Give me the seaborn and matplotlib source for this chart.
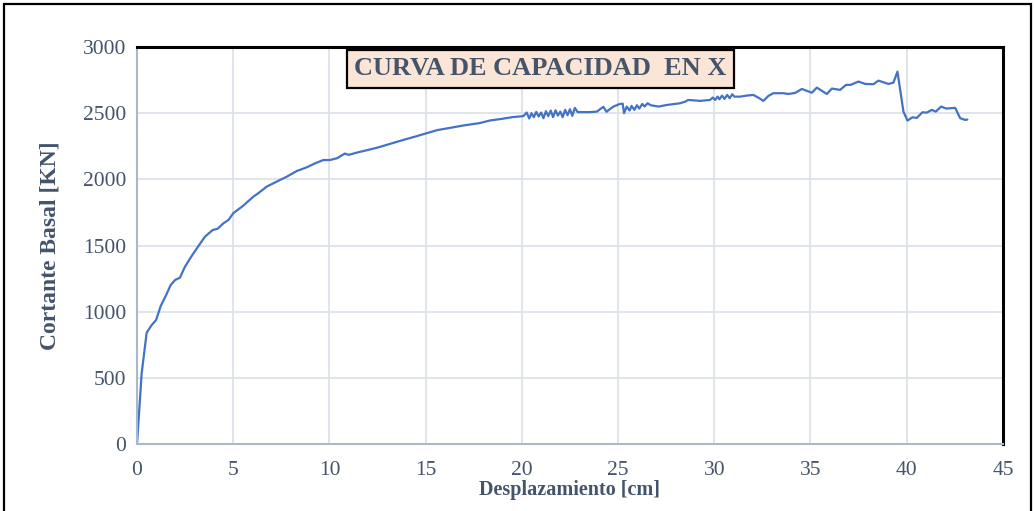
import matplotlib
matplotlib.use('Agg')
import matplotlib.pyplot as plt
from matplotlib.patches import Rectangle
import pandas as pd
import seaborn as sns

# curva de capacidad
desplazamiento = [
    0.0, 0.24, 0.5, 0.76, 0.99, 1.23, 1.49, 1.75, 1.98, 2.23, 2.49, 2.84,
    3.19, 3.53, 3.93, 4.19, 4.49, 4.75, 5.0, 5.52, 6.04, 6.3, 6.74, 7.26,
    7.78, 8.3, 8.82, 9.25, 9.68, 10.03, 10.4, 10.8, 11.0, 11.5, 12.0, 12.5,
    13.0, 13.7, 14.5, 15.2, 15.6, 16.3, 17.0, 17.8, 18.35, 19.0, 19.5, 20.08,
    20.25, 20.38, 20.5, 20.62, 20.75, 20.87, 21.0, 21.12, 21.25, 21.37, 21.5,
    21.62, 21.75, 21.87, 22.0, 22.12, 22.25, 22.37, 22.5, 22.62, 22.75, 22.9,
    23.5, 23.9, 24.06, 24.24, 24.4, 24.58, 24.76, 25.1, 25.24, 25.31, 25.45,
    25.6, 25.7, 25.85, 25.98, 26.1, 26.26, 26.38, 26.53, 26.7, 27.1, 27.53,
    28.22, 28.48, 28.65, 29.26, 29.78, 29.92, 30.05, 30.17, 30.27, 30.4,
    30.53, 30.67, 30.8, 30.93, 31.05, 31.34, 31.69, 32.03, 32.34, 32.55,
    32.81, 33.07, 33.59, 33.85, 34.2, 34.55, 35.07, 35.33, 35.85, 36.11,
    36.54, 36.85, 37.09, 37.49, 37.84, 38.27, 38.53, 39.05, 39.31, 39.52,
    39.83, 40.04, 40.3, 40.52, 40.82, 41.04, 41.3, 41.51, 41.79, 42.05,
    42.52, 42.78, 43.04, 43.15,
]
cortante = [
    0, 534, 841, 899, 937, 1043, 1119, 1202, 1240, 1257, 1340, 1421,
    1496, 1567, 1617, 1627, 1668, 1693, 1744, 1801, 1869, 1895, 1945, 1983,
    2020, 2063, 2091, 2121, 2146, 2146, 2160, 2195, 2185, 2205, 2222, 2240,
    2262, 2292, 2325, 2355, 2372, 2390, 2408, 2425, 2445, 2458, 2470, 2478,
    2505, 2460, 2500, 2470, 2510, 2475, 2505, 2462, 2515, 2478, 2520,
    2470, 2522, 2482, 2512, 2470, 2525, 2485, 2530, 2480, 2540, 2508,
    2508, 2512, 2530, 2548, 2510, 2532, 2550, 2570, 2572, 2500, 2550,
    2520, 2555, 2525, 2560, 2535, 2570, 2550, 2575, 2560, 2550, 2562,
    2575, 2587, 2600, 2593, 2600, 2618, 2600, 2625, 2605, 2633,
    2608, 2638, 2613, 2643, 2625, 2625, 2633, 2638, 2613, 2593,
    2630, 2651, 2651, 2645, 2653, 2683, 2655, 2693, 2645, 2686,
    2676, 2714, 2714, 2739, 2721, 2719, 2746, 2721, 2731, 2814,
    2512, 2444, 2469, 2464, 2507, 2504, 2525, 2512, 2550, 2535,
    2540, 2462, 2449, 2452,
]

x_ticks = [0, 5, 10, 15, 20, 25, 30, 35, 40, 45]
y_ticks = [0, 500, 1000, 1500, 2000, 2500, 3000]

df = pd.DataFrame({'desp': desplazamiento, 'v': cortante})

sns.set_style('white')
plt.rcParams['font.family'] = ['Liberation Serif', 'DejaVu Serif']

text_col = '#44546A'

fig = plt.figure(figsize=(10.35, 5.11), dpi=100)
ax = fig.add_axes([0.1324, 0.131, 0.8366, 0.777])

sns.lineplot(data=df, x='desp', y='v', ax=ax, color='#4472C4',
             linewidth=1.6, sort=False, estimator=None)

ax.set_xlim(0, 45)
ax.set_ylim(0, 3000)
ax.set_xticks(x_ticks)
ax.set_yticks(y_ticks)
ax.grid(True, color='#DDE2EA', linewidth=1.3)
ax.tick_params(axis='both', length=0, labelsize=15.5, labelcolor=text_col,
               pad=12)
ax.tick_params(axis='y', pad=8)

for side in ['top', 'right']:
    ax.spines[side].set_color('black')
    ax.spines[side].set_linewidth(2.2)
for side in ['left', 'bottom']:
    ax.spines[side].set_color('#A9B8CC')
    ax.spines[side].set_linewidth(1.5)

ax.set_xlabel('Desplazamiento [cm]', fontsize=14.5, fontweight='bold',
              color=text_col, labelpad=0)
ax.set_ylabel('Cortante Basal [KN]', fontsize=17, fontweight='bold',
              color=text_col, labelpad=16)

ax.text(0.4655, 0.945, 'CURVA DE CAPACIDAD  EN X', transform=ax.transAxes,
        ha='center', va='center', fontsize=19, fontweight='bold',
        color=text_col,
        bbox=dict(boxstyle='square,pad=0.28', facecolor='#FBE5D6',
                  edgecolor='black', linewidth=1.6))

# outer frame of the chart area
fig.patches.append(Rectangle((0.004, -0.02), 0.992, 1.012,
                             transform=fig.transFigure, fill=False,
                             edgecolor='black', linewidth=1.6))

plt.savefig('out.png', dpi=100)
